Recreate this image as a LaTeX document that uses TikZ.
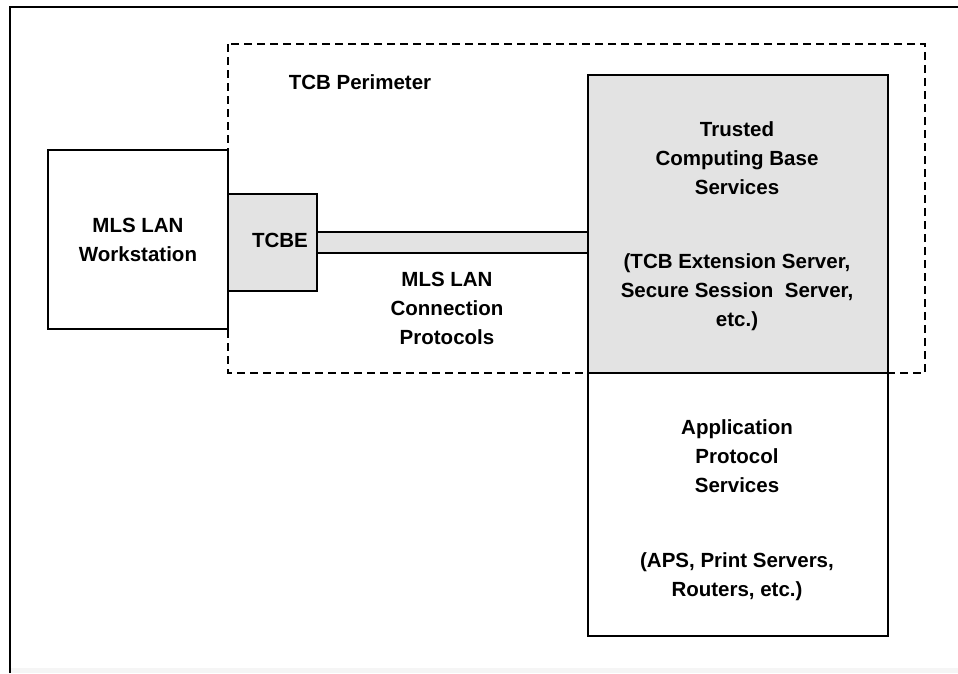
\documentclass[tikz,border=0pt]{standalone}
\usepackage{fontspec}
\setmainfont{Liberation Sans}
\begin{document}
\begin{tikzpicture}[x=1pt,y=-1pt,
  box/.style={draw=black,line width=2.8pt,inner sep=0pt},
  shaded/.style={box,fill=boxgray},
  lbl/.style={align=center,inner sep=0pt,font=\bfseries\fontsize{20.5}{29}\selectfont},
  perim/.style={draw=black,line width=2.4pt,dash pattern=on 8pt off 5pt}]
\definecolor{boxgray}{HTML}{E3E3E3}
\useasboundingbox (0,0) rectangle (958,673);
\fill[white] (0,0) rectangle (958,673);
\fill[black!4] (10,668) rectangle (958,673);
% outer frame (partially visible)
\draw[line width=2.4pt] (10,673) -- (10,7) -- (958,7);
% TCB perimeter
\coordinate (pTL) at (228,44);
\coordinate (pBR) at (925,373);
\draw[perim] (pTL) rectangle (pBR);
% workstation
\node[box,fill=white,minimum width=180pt,minimum height=179pt] (ws) at (138,239.5) {};
% channel
\node[shaded,minimum width=271pt,minimum height=21pt] (chan) at (452.5,242.5) {};
% TCBE
\node[shaded,minimum width=89pt,minimum height=97pt] (tcbe) at (272.5,242.5) {};
% TCB services
\node[shaded,minimum width=300pt,minimum height=298pt] (tcb) at (738,224) {};
% application services
\node[box,fill=white,minimum width=300pt,minimum height=263pt] (app) at (738,504.5) {};
% labels
\node[lbl] (wslbl) at (ws.center) {MLS LAN\\Workstation};
\node[lbl] (tcbelbl) at (280,240) {TCBE};
\node[lbl] (chanlbl) at (447,308) {MLS LAN\\Connection\\Protocols};
\node[lbl] (perimlbl) at (360,82) {TCB Perimeter};
\node[lbl] (tcblbl) at (737,158) {Trusted\\Computing Base\\Services};
\node[lbl] (tcbsub) at (737,292) {(TCB Extension Server,\\Secure Session\ \ Server,\\etc.)};
\node[lbl] (applbl) at (737,456) {Application\\Protocol\\Services};
\node[lbl] (appsub) at (737,577) {(APS, Print Servers,\\Routers, etc.)};
\end{tikzpicture}
\end{document}
